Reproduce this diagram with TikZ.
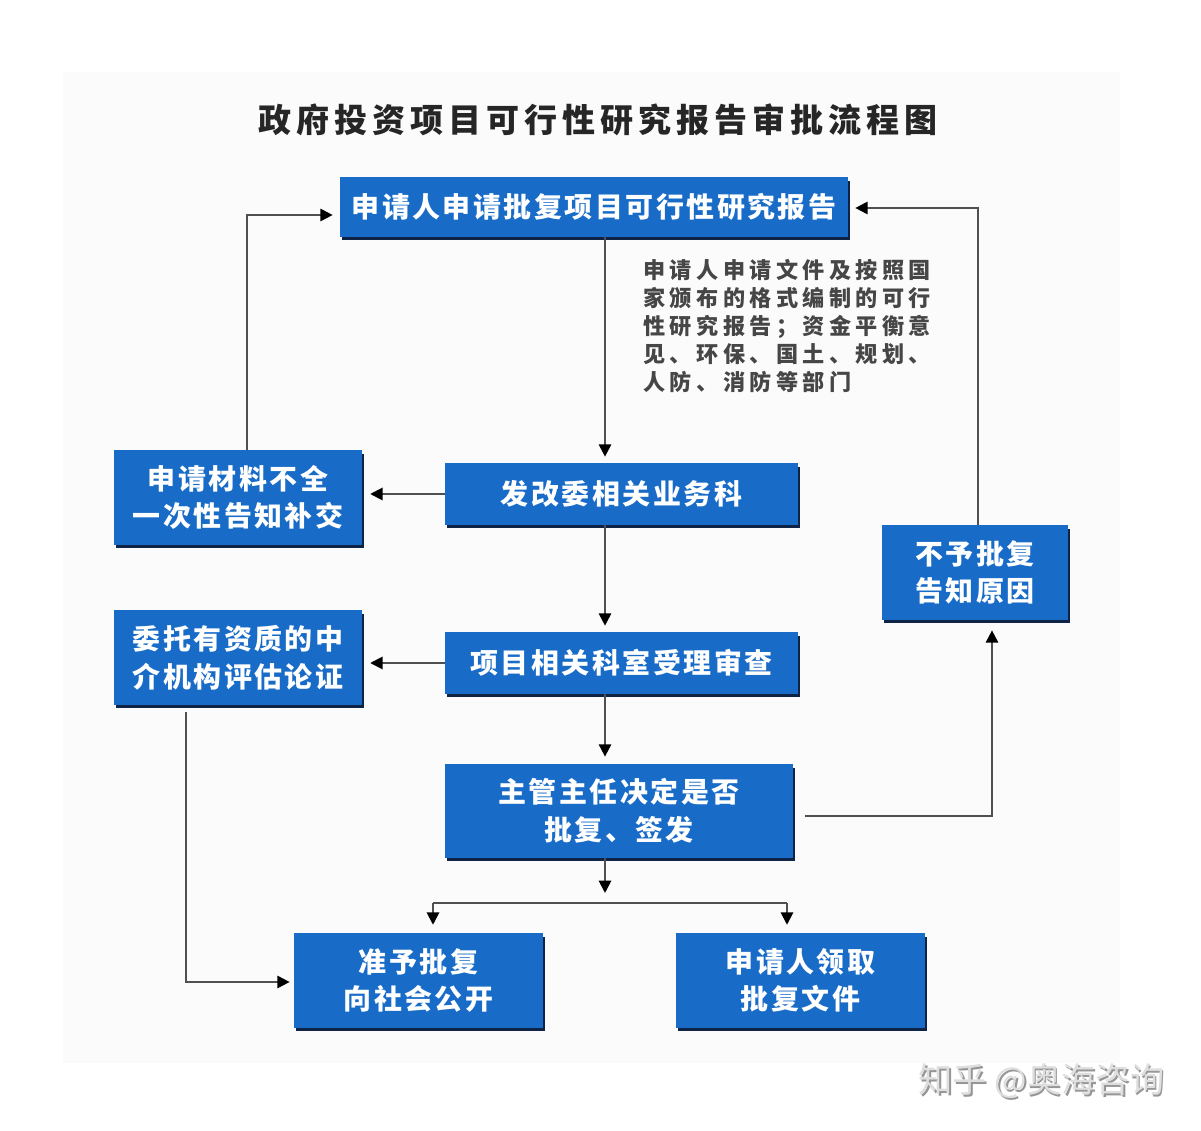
\documentclass[tikz,border=0pt]{standalone}
\usepackage{fontspec}
\setmainfont{Noto Sans CJK SC}
\newfontfamily\boxfont{Noto Sans CJK SC}[LetterSpace=9]
\newfontfamily\titlefont{Noto Sans CJK SC}[LetterSpace=15]
\newfontfamily\notefont{Noto Sans CJK SC}[LetterSpace=20]
\newfontfamily\wmfont{Noto Sans CJK SC}
\usetikzlibrary{arrows.meta,shadows}
\definecolor{boxblue}{RGB}{24,108,200}
\definecolor{boxshade}{RGB}{15,35,70}
\definecolor{linegray}{RGB}{80,80,80}
\definecolor{bggray}{RGB}{251,251,251}
\definecolor{notegray}{RGB}{70,70,70}
\definecolor{wmfront}{RGB}{222,222,222}
\definecolor{wmback}{RGB}{150,150,150}
\begin{document}
\begin{tikzpicture}[x=0.02cm,y=-0.02cm,
  box/.style={fill=boxblue, text=white, align=center, inner sep=0pt,
    font=\boxfont\bfseries\fontsize{15.9}{21.4}\selectfont,
    drop shadow={shadow xshift=0.035cm, shadow yshift=-0.07cm, fill=boxshade, opacity=1}},
  arr/.style={draw=linegray, line width=1.1pt, -{Triangle[length=7pt,width=7pt,color=black]}},
  plain/.style={draw=linegray, line width=1.1pt}]
\useasboundingbox (0,0) rectangle (1201,1131);
\fill[white] (0,0) rectangle (1201,1131);
\fill[bggray] (63,72) rectangle (1120,1063);

\node[font=\titlefont\bfseries\fontsize{18.8}{20}\selectfont, text=black!85] (title) at (598,120) {政府投资项目可行性研究报告审批流程图};

\node[box, minimum width=10.16cm, minimum height=1.2cm] (ta) at (594,207) {申请人申请批复项目可行性研究报告};
\node[box, minimum width=4.96cm, minimum height=1.9cm] (miss) at (238,497.5) {申请材料不全\\一次性告知补交};
\node[box, minimum width=7.06cm, minimum height=1.24cm] (fgw) at (621.5,494) {发改委相关业务科};
\node[box, minimum width=3.72cm, minimum height=1.9cm] (deny) at (975,572.5) {不予批复\\告知原因};
\node[box, minimum width=4.96cm, minimum height=1.9cm] (agent) at (238,657.5) {委托有资质的中\\介机构评估论证};
\node[box, minimum width=7.06cm, minimum height=1.24cm] (review) at (621.5,663) {项目相关科室受理审查};
\node[box, minimum width=6.96cm, minimum height=1.88cm] (decide) at (619,811) {主管主任决定是否\\批复、签发};
\node[box, minimum width=4.98cm, minimum height=1.9cm] (approve) at (418.5,980.5) {准予批复\\向社会公开};
\node[box, minimum width=4.98cm, minimum height=1.9cm] (collect) at (800.5,980.5) {申请人领取\\批复文件};

\node[anchor=north west, align=left, inner sep=0pt, text=notegray,
  font=\notefont\bfseries\fontsize{12.6}{15.9}\selectfont] (note) at (643,259)
  {申请人申请文件及按照国\\家颁布的格式编制的可行\\性研究报告；资金平衡意\\见、环保、国土、规划、\\人防、消防等部门};

\node[text=wmback, font=\wmfont\fontsize{19.5}{20}\selectfont] (wmshadow) at (1043,1083.5) {知乎 @奥海咨询};
\node[text=wmfront, font=\wmfont\fontsize{19.5}{20}\selectfont] (wm) at (1041.5,1081.5) {知乎 @奥海咨询};

\coordinate (cx) at (605,0);
\draw[arr, shorten >=3.4pt] (ta.south -| cx) -- (fgw.north -| cx);
\draw[arr, shorten >=4.5pt] (fgw.west) -- (miss.east |- fgw.west);
\draw[arr, shorten >=3.4pt] (fgw.south -| cx) -- (review.north -| cx);
\draw[arr, shorten >=4.5pt] (review.west) -- (agent.east |- review.west);
\draw[arr, shorten >=4pt] (review.south -| cx) -- (decide.north -| cx);

\coordinate (fork) at (605,903);
\coordinate (fl) at (433,903);
\coordinate (fr) at (787,903);
\draw[arr, shorten >=5.7pt] (decide.south -| cx) -- (fork);
\draw[plain] (fl) -- (fr);
\draw[arr, shorten >=4.5pt] (fl) -- (approve.north -| fl);
\draw[arr, shorten >=4.5pt] (fr) -- (collect.north -| fr);

\coordinate (dr) at (992,816);
\draw[arr, shorten <=6.8pt, shorten >=5.7pt] (decide.east |- dr) -- (dr) -- (deny.south -| dr);
\coordinate (ur) at (978,208);
\draw[arr, shorten >=4pt] (deny.north -| ur) -- (ur) -- (ta.east |- ur);
\coordinate (ul) at (247,215);
\draw[arr, shorten >=4pt] (miss.north -| ul) -- (ul) -- (ta.west |- ul);
\coordinate (ll) at (186,982);
\draw[arr, shorten <=4pt, shorten >=2.3pt] (agent.south -| ll) -- (ll) -- (approve.west |- ll);
\end{tikzpicture}
\end{document}
